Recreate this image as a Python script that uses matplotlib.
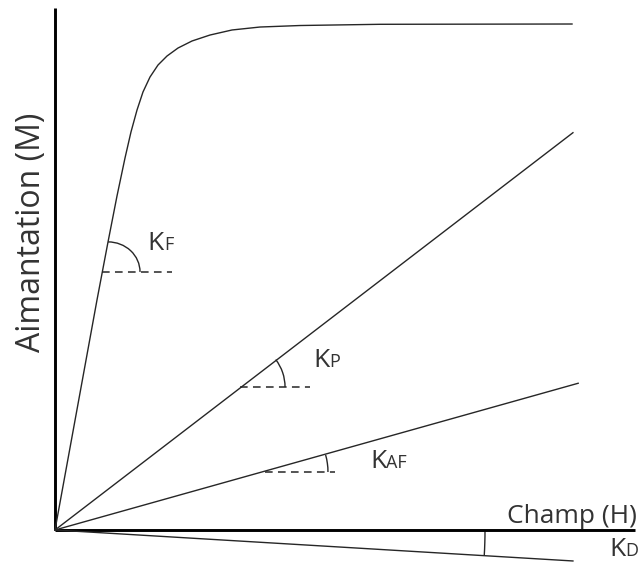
import matplotlib
matplotlib.use("Agg")
import matplotlib.pyplot as plt
from matplotlib.patches import Arc
import numpy as np

# ---------------- data (H, M in arbitrary units) ----------------
axis_H_max = 10.0
axis_M_max = 9.0

# ferromagnetic curve
ferro_H = [0.0, 0.724, 0.914, 1.069, 1.207, 1.310, 1.414, 1.517, 1.638, 1.776,
           1.931, 2.121, 2.362, 2.672, 3.052, 3.534, 4.224, 5.603, 8.914]
ferro_M = [0.0, 3.966, 4.966, 5.759, 6.414, 6.862, 7.241, 7.552, 7.810, 8.017,
           8.172, 8.310, 8.431, 8.534, 8.621, 8.672, 8.698, 8.719, 8.724]

# straight lines: paramagnetic, antiferromagnetic, diamagnetic
para_H = [0.0, 8.93]
para_M = [0.0, 6.85]
antiferro_H = [0.0, 9.02]
antiferro_M = [0.0, 2.53]
dia_H = [0.0, 8.93]
dia_M = [0.0, -0.534]

# angle markers: dashed reference segments (H start, H end, M level)
kf_dash = (0.81, 2.02, 4.45)
kp_dash = (3.19, 4.40, 2.466)
kaf_dash = (3.62, 4.83, 1.0)

labels_K = ["F", "P", "AF", "D"]
label_pos = [(1.60, 4.83), (4.45, 2.81), (5.43, 1.07), (9.55, -0.448)]

xlabel = "Champ (H)"
ylabel = "Aimantation (M)"

# ---------------- figure ----------------
px = 58.0
fig = plt.figure(figsize=(6.42, 5.64), dpi=100)
ax = fig.add_axes([0, 0, 1, 1])
ax.set_xlim(-55 / px, 587 / px)
ax.set_ylim(-34 / px, 530 / px)
ax.axis("off")

txt_color = "#333333"
line_color = "#262626"
font = "Open Sans"

# axes
ax.plot([0, 0], [0, axis_M_max], color="black", lw=2.1, solid_capstyle="butt")
ax.plot([0, axis_H_max], [0, 0], color="black", lw=2.1, solid_capstyle="butt")

# curves
ax.plot(ferro_H, ferro_M, color=line_color, lw=1.0, solid_joinstyle="round")
ax.plot(para_H, para_M, color=line_color, lw=1.0)
ax.plot(antiferro_H, antiferro_M, color=line_color, lw=1.0)
ax.plot(dia_H, dia_M, color=line_color, lw=1.0)

# dashed references
for (h0, h1, m) in (kf_dash, kp_dash, kaf_dash):
    ax.plot([h0, h1], [m, m], color=line_color, lw=1.1, dashes=(5, 3.5))

# angle arcs
ax.add_patch(Arc((0.914, kf_dash[2]), 2 * 32 / px, 2 * 30 / px, theta1=0, theta2=90,
                 color=line_color, lw=1.0))
ang_p = np.degrees(np.arctan2(para_M[1], para_H[1]))
ax.add_patch(Arc((kp_dash[0], kp_dash[2]), 2 * 45 / px, 2 * 45 / px, theta1=0,
                 theta2=ang_p, color=line_color, lw=1.0))
ang_af = np.degrees(np.arctan2(antiferro_M[1], antiferro_H[1]))
ax.add_patch(Arc((kaf_dash[0], kaf_dash[2]), 2 * 63 / px, 2 * 63 / px, theta1=0,
                 theta2=ang_af, color=line_color, lw=1.0))
ang_d = np.degrees(np.arctan2(dia_M[1], dia_H[1]))
ax.add_patch(Arc((0, 0), 2 * 430 / px, 2 * 430 / px, theta1=ang_d, theta2=0,
                 color=line_color, lw=1.0))

# labels K with small subscript capitals
for sub, (h, m) in zip(labels_K, label_pos):
    t = ax.text(h, m, "K", fontsize=19, family=font, color=txt_color,
                ha="left", va="baseline")
    ax.annotate(sub, xy=(1, m), xycoords=(t, "data"), fontsize=13, family=font,
                color=txt_color, ha="left", va="baseline")

# axis labels
ax.text(10.03, 0.12, xlabel, fontsize=19, family=font, color=txt_color,
        ha="right", va="baseline")
ax.text(-0.405, (530 - 232) / px, ylabel, fontsize=23, family=font,
        color=txt_color, rotation=90, ha="center", va="center")

fig.savefig("out.png", dpi=100)
